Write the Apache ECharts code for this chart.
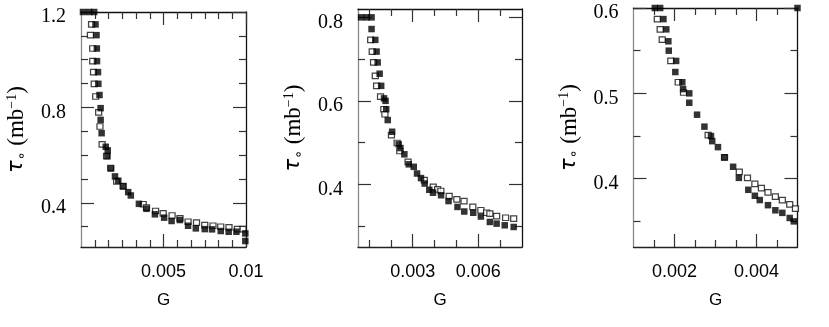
<!DOCTYPE html>
<html>
<head>
<meta charset="utf-8">
<script src="https://cdn.jsdelivr.net/npm/echarts@6/dist/echarts.min.js"></script>
<style>
  html, body { margin: 0; padding: 0; background: #fff; }
  #chart { width: 829px; height: 327px; }
</style>
</head>
<body>
<div id="chart"></div>
<script>
// ---- data: [G, tau_o] ----
// panel 1
const p1Filled = [
  [0.00012, 1.2], [0.0005, 1.2], [0.0008, 1.2], [0.00088, 1.148], [0.00094, 1.103],
  [0.00096, 1.047], [0.00097, 0.994], [0.00103, 0.948], [0.00105, 0.899], [0.00112, 0.852],
  [0.00119, 0.797], [0.00119, 0.748], [0.00125, 0.692], [0.0015, 0.635], [0.00162, 0.62],
  [0.0016, 0.596], [0.00181, 0.544], [0.00206, 0.511], [0.00226, 0.493], [0.00256, 0.469],
  [0.00286, 0.445], [0.00302, 0.431], [0.00351, 0.396], [0.00397, 0.375], [0.00448, 0.352],
  [0.00504, 0.338], [0.00549, 0.324], [0.00599, 0.328], [0.00649, 0.304], [0.00696, 0.293],
  [0.0075, 0.29], [0.00794, 0.289], [0.00847, 0.282], [0.00895, 0.279], [0.00942, 0.279],
  [0.00996, 0.272], [0.00996, 0.24]
]
const p1Open = [
  [0.00064, 1.148], [0.00057, 1.103], [0.00071, 1.047], [0.00071, 0.994], [0.00076, 0.948],
  [0.0008, 0.899], [0.00089, 0.846], [0.00107, 0.779], [0.00115, 0.72], [0.00128, 0.645],
  [0.00155, 0.596], [0.0018, 0.546], [0.00216, 0.49], [0.00255, 0.47], [0.00377, 0.394],
  [0.00397, 0.38], [0.00452, 0.366], [0.00498, 0.356], [0.00552, 0.347], [0.006, 0.335],
  [0.00649, 0.321], [0.007, 0.317], [0.0075, 0.307], [0.008, 0.304], [0.00847, 0.3],
  [0.00897, 0.297], [0.00948, 0.29], [0.00982, 0.29]
]
// panel 2
const p2Filled = [
  [0.00064, 0.8], [0.0009, 0.8], [0.00112, 0.8], [0.00112, 0.772], [0.00129, 0.746],
  [0.00135, 0.718], [0.0014, 0.692], [0.00149, 0.665], [0.00156, 0.636], [0.00169, 0.606],
  [0.00176, 0.6], [0.00179, 0.58], [0.00186, 0.554], [0.00206, 0.526], [0.00236, 0.496],
  [0.00244, 0.487], [0.00262, 0.472], [0.00282, 0.448], [0.00305, 0.442], [0.0032, 0.426],
  [0.00338, 0.415], [0.00355, 0.402], [0.00376, 0.387], [0.00393, 0.38], [0.0043, 0.374],
  [0.00464, 0.36], [0.00505, 0.346], [0.00536, 0.335], [0.00577, 0.332], [0.00612, 0.323],
  [0.00653, 0.31], [0.00684, 0.306], [0.00721, 0.302], [0.00762, 0.298]
]
const p2Open = [
  [0.00108, 0.746], [0.00115, 0.718], [0.00121, 0.692], [0.00129, 0.66], [0.00135, 0.636],
  [0.00153, 0.61], [0.00168, 0.58], [0.00173, 0.568], [0.00203, 0.518], [0.00229, 0.499],
  [0.00241, 0.48], [0.00279, 0.454], [0.00353, 0.41], [0.00394, 0.394], [0.00414, 0.388],
  [0.00429, 0.384], [0.00467, 0.372], [0.00502, 0.364], [0.00535, 0.36], [0.00575, 0.346],
  [0.00612, 0.338], [0.00638, 0.332], [0.00653, 0.33], [0.00684, 0.324], [0.00725, 0.32],
  [0.00762, 0.318]
]
// panel 3
const p3Filled = [
  [0.00152, 0.6], [0.00165, 0.6], [0.005, 0.6], [0.00173, 0.587], [0.0018, 0.575],
  [0.00185, 0.561], [0.00186, 0.55], [0.00204, 0.538], [0.00202, 0.525], [0.00219, 0.513],
  [0.00221, 0.505], [0.00236, 0.5], [0.00236, 0.489], [0.00255, 0.475], [0.00273, 0.461],
  [0.00289, 0.45], [0.00292, 0.444], [0.00306, 0.437], [0.00322, 0.425], [0.00343, 0.414],
  [0.00357, 0.401], [0.0038, 0.387], [0.00396, 0.38], [0.00408, 0.375], [0.00428, 0.369],
  [0.00446, 0.363], [0.00463, 0.36], [0.00481, 0.354], [0.00491, 0.35]
]
const p3Open = [
  [0.00158, 0.587], [0.00165, 0.575], [0.0017, 0.563], [0.00191, 0.538], [0.00209, 0.513],
  [0.00222, 0.501], [0.00282, 0.451], [0.00322, 0.425], [0.00358, 0.408], [0.00378, 0.401],
  [0.00396, 0.394], [0.00412, 0.389], [0.00428, 0.384], [0.00446, 0.379], [0.00463, 0.375],
  [0.00481, 0.37], [0.00495, 0.365]
]

// ---- tick values and labels ----
const p1XMajor = [0.005, 0.01]
const p1XLabels = ['0.005', '0.01']
const p1XMinor = [1, 2, 3, 4, 5, 7, 8, 9, 10, 11].map(k => k * 0.01 / 12)
const p1YMajor = [0.4, 0.8, 1.2]
const p1YLabels = ['0.4', '0.8', '1.2']
const p1YMinor = [0.3, 0.5, 0.6, 0.7, 0.9, 1.0, 1.1]

const p2XMajor = [0.003, 0.006]
const p2XLabels = ['0.003', '0.006']
const p2XMinor = [0.001, 0.002, 0.004, 0.005, 0.007]
const p2YMajor = [0.4, 0.6, 0.8]
const p2YLabels = ['0.4', '0.6', '0.8']
const p2YMinor = [0.3, 0.5, 0.7]

const p3XMajor = [0.002, 0.004]
const p3XLabels = ['0.002', '0.004']
const p3XMinor = [0.0015, 0.0025, 0.003, 0.0035, 0.0045]
const p3YMajor = [0.4, 0.5, 0.6]
const p3YLabels = ['0.4', '0.5', '0.6']
const p3YMinor = [0.35, 0.45, 0.55]

const panels = [
  { grid: { left: 81, top: 12, width: 165, height: 235 }, x: [0, 0.01], y: [0.215, 1.2],
    xMajor: p1XMajor, xLabels: p1XLabels, xMinor: p1XMinor,
    yMajor: p1YMajor, yLabels: p1YLabels, yMinor: p1YMinor, filled: p1Filled, open: p1Open },
  { grid: { left: 358, top: 9, width: 164, height: 238 }, x: [0.0005, 0.008], y: [0.25, 0.82],
    xMajor: p2XMajor, xLabels: p2XLabels, xMinor: p2XMinor,
    yMajor: p2YMajor, yLabels: p2YLabels, yMinor: p2YMinor, filled: p2Filled, open: p2Open },
  { grid: { left: 633.5, top: 8, width: 164, height: 239 }, x: [0.001, 0.005], y: [0.32, 0.6],
    xMajor: p3XMajor, xLabels: p3XLabels, xMinor: p3XMinor,
    yMajor: p3YMajor, yLabels: p3YLabels, yMinor: p3YMinor, filled: p3Filled, open: p3Open }
]

// 通过值找到对应的刻度文字
function labelOf (vals, labels) {
  return (v) => {
    const i = vals.findIndex(t => Math.abs(t - v) < 1e-9)
    return i < 0 ? '' : labels[i]
  }
}

// 一条坐标轴：主刻度(长)或次刻度(短)
function makeAxis (gridIndex, range, position, ticks, long, lineColor, extra) {
  return Object.assign({
    type: 'value',
    gridIndex: gridIndex,
    min: range[0],
    max: range[1],
    position: position,
    axisLine: { show: !!lineColor, onZero: false, lineStyle: { color: lineColor || '#000', width: 1.3 } },
    axisTick: { show: true, inside: true, length: long ? 13 : 7, customValues: ticks,
      lineStyle: { color: '#333', width: 1.2 } },
    axisLabel: { show: false },
    splitLine: { show: false }
  }, extra || {})
}

const xAxes = []
const yAxes = []
const series = []
panels.forEach((p, i) => {
  // 下边轴：主刻度 + 文字 + 轴名 G
  xAxes.push(makeAxis(i, p.x, 'bottom', p.xMajor, true, '#222', {
    name: 'G',
    nameLocation: 'middle',
    nameGap: 45,
    nameTextStyle: { fontFamily: 'Liberation Sans, Arial, sans-serif', fontSize: 17, color: '#000' },
    axisLabel: {
      show: true, customValues: p.xMajor, margin: 16, formatter: labelOf(p.xMajor, p.xLabels),
      fontFamily: 'Liberation Sans, Arial, sans-serif', fontSize: 18, color: '#000'
    }
  }))
  xAxes.push(makeAxis(i, p.x, 'bottom', p.xMinor, false, null))
  xAxes.push(makeAxis(i, p.x, 'top', p.xMajor, true, '#111'))
  xAxes.push(makeAxis(i, p.x, 'top', p.xMinor, false, null))
  // 左边轴：主刻度 + 文字 + 轴名
  yAxes.push(makeAxis(i, p.y, 'left', p.yMajor, true, '#8a8a8a', {
    name: '{t|τ}{o|∘} (mb{s|−1})',
    nameLocation: 'middle',
    nameRotate: 90,
    nameGap: 52,
    nameTextStyle: {
      fontFamily: 'Liberation Serif, Times New Roman, serif', fontSize: 23, color: '#000',
      rich: {
        t: { fontFamily: 'DejaVu Sans, sans-serif', fontStyle: 'italic', fontSize: 21, color: '#000' },
        o: { fontFamily: 'DejaVu Sans, sans-serif', fontSize: 14, verticalAlign: 'bottom', color: '#000', padding: [10, 0, 0, 0] },
        s: { fontFamily: 'Liberation Serif, serif', fontSize: 14, verticalAlign: 'top', color: '#000', padding: [0, 0, 10, 0] }
      }
    },
    axisLabel: {
      show: true, customValues: p.yMajor, margin: 15, formatter: labelOf(p.yMajor, p.yLabels),
      fontFamily: 'Liberation Serif, Times New Roman, serif', fontSize: 20, color: '#000',
      verticalAlign: 'top', lineHeight: 10
    }
  }))
  yAxes.push(makeAxis(i, p.y, 'left', p.yMinor, false, null))
  yAxes.push(makeAxis(i, p.y, 'right', p.yMajor, true, '#111'))
  yAxes.push(makeAxis(i, p.y, 'right', p.yMinor, false, null))

  // 空心方块在下，实心方块在上
  series.push({
    type: 'scatter', xAxisIndex: i * 4, yAxisIndex: i * 4, data: p.open,
    symbol: 'rect', symbolSize: [6, 5.5], clip: false,
    itemStyle: { color: '#fff', borderColor: '#111', borderWidth: 1.2 }
  })
  series.push({
    type: 'scatter', xAxisIndex: i * 4, yAxisIndex: i * 4, data: p.filled,
    symbol: 'rect', symbolSize: 6.5, clip: false,
    itemStyle: { color: '#000' }
  })
})

const chartInstance = echarts.init(document.getElementById('chart'))
chartInstance.setOption({
  animation: false,
  backgroundColor: '#fff',
  grid: panels.map(p => Object.assign({ containLabel: false, outerBoundsMode: 'none' }, p.grid)),
  xAxis: xAxes,
  yAxis: yAxes,
  series: series
})
</script>
</body>
</html>
